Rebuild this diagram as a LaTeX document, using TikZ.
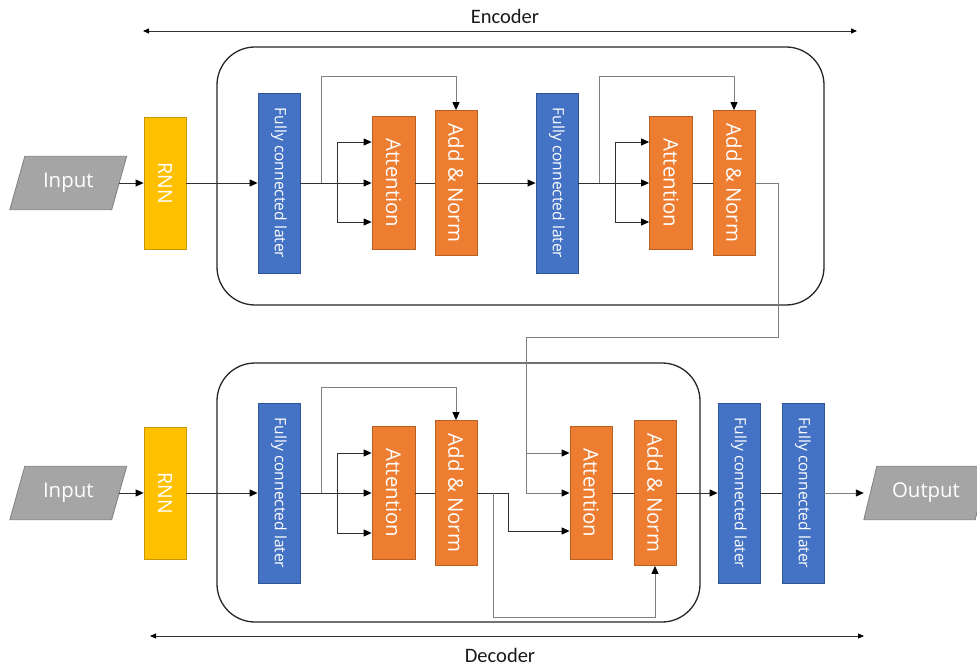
\documentclass[tikz,border=0pt]{standalone}
\usepackage{fontspec}
\setmainfont{Open Sans}
\newfontfamily\capfont{Carlito}
\usetikzlibrary{arrows.meta}

\definecolor{fcblue}{HTML}{4472C4}
\definecolor{fcedge}{HTML}{2F5597}
\definecolor{attorange}{HTML}{ED7D31}
\definecolor{attedge}{HTML}{B85F24}
\definecolor{rnnyellow}{HTML}{FFC000}
\definecolor{rnnedge}{HTML}{C99700}
\definecolor{iogray}{HTML}{A5A5A5}
\definecolor{ioedge}{HTML}{808080}
\definecolor{wirecol}{HTML}{303030}
\definecolor{skipcol}{HTML}{7F7F7F}

\begin{document}
\begin{tikzpicture}[x=1pt,y=-1pt,
  blk/.style={draw, line width=0.8pt, inner sep=0pt, text=white},
  fcbox/.style={blk, fill=fcblue, draw=fcedge, minimum width=42pt, minimum height=180pt,
    font=\fontsize{15.6}{18}\selectfont},
  attbox/.style={blk, fill=attorange, draw=attedge, minimum width=43pt, minimum height=133pt,
    font=\fontsize{20.4}{24}\selectfont},
  addbox/.style={blk, fill=attorange, draw=attedge, minimum width=42pt, minimum height=145pt,
    font=\fontsize{20.4}{24}\selectfont},
  rnnbox/.style={blk, fill=rnnyellow, draw=rnnedge, minimum width=42pt, minimum height=132pt,
    font=\fontsize{19.5}{24}\selectfont},
  iobox/.style={inner sep=0pt, text=white, minimum height=53pt,
    font=\fontsize{20.4}{24}\selectfont},
  iofill/.style={fill=iogray, draw=ioedge, line width=0.8pt},
  frame/.style={draw=black!85, line width=1.3pt, rounded corners=38pt, inner sep=0pt},
  tip/.style={-{Triangle[length=8pt,width=7pt,color=black]}},
  wire/.style={draw=wirecol, line width=0.9pt},
  skip/.style={draw=skipcol, line width=0.9pt},
  span/.style={draw=black!80, line width=0.9pt,
    {Triangle[length=6pt,width=5pt,color=black]}-{Triangle[length=6pt,width=5pt,color=black]}},
  caption/.style={font=\capfont\fontsize{20.5}{24}\selectfont, text=black!90}
]
\useasboundingbox (0,0) rectangle (977,668);
\clip (0,0) rectangle (977,668);

% ---------- group frames ----------
\node[frame, minimum width=607pt, minimum height=258pt] (encframe) at (520.5,176) {};
\node[frame, minimum width=483pt, minimum height=259pt] (decframe) at (458.5,492.5) {};

% ---------- encoder / decoder spans ----------
\coordinate (ea) at (143,31);
\coordinate (eb) at (857,31);
\draw[span] (ea) -- (eb);
\node[caption] (enclabel) at (505,16) {Encoder};

\coordinate (da) at (150,636);
\coordinate (db) at (864,636);
\draw[span] (da) -- (db);
\node[caption] (declabel) at (500,655) {Decoder};

% ---------- encoder blocks ----------
\node[iobox, minimum width=101.5pt] (in1) at (68.25,183) {};
\path[iofill] ([xshift=-7.5pt]in1.south west) -- ([xshift=7.5pt]in1.north west)
  -- ([xshift=7.5pt]in1.north east) -- ([xshift=-7.5pt]in1.south east) -- cycle;
\node[iobox] at (in1) {Input};

\node[rnnbox] (rnn1) at (165,183) {\rotatebox{-90}{RNN}};
\node[fcbox]  (fc1)  at (279,183) {\rotatebox{-90}{Fully connected later}};
\node[attbox] (att1) at (393.5,183) {\rotatebox{-90}{Attention}};
\node[addbox] (add1) at (456,183) {\rotatebox{-90}{Add \& Norm}};
\node[fcbox]  (fc2)  at (557,183) {\rotatebox{-90}{Fully connected later}};
\node[attbox] (att2) at (671,183) {\rotatebox{-90}{Attention}};
\node[addbox] (add2) at (734,183) {\rotatebox{-90}{Add \& Norm}};

% ---------- decoder blocks ----------
\node[iobox, minimum width=101.5pt] (in2) at (68.25,493) {};
\path[iofill] ([xshift=-7.5pt]in2.south west) -- ([xshift=7.5pt]in2.north west)
  -- ([xshift=7.5pt]in2.north east) -- ([xshift=-7.5pt]in2.south east) -- cycle;
\node[iobox] at (in2) {Input};

\node[rnnbox] (rnn2) at (165,493) {\rotatebox{-90}{RNN}};
\node[fcbox]  (fc3)  at (279,493) {\rotatebox{-90}{Fully connected later}};
\node[attbox] (att3) at (393.5,493) {\rotatebox{-90}{Attention}};
\node[addbox] (add3) at (456,493) {\rotatebox{-90}{Add \& Norm}};
\node[attbox, minimum width=42pt] (att4) at (591,493) {\rotatebox{-90}{Attention}};
\node[addbox] (add4) at (655,493) {\rotatebox{-90}{Add \& Norm}};
\node[fcbox]  (fc4)  at (739,493) {\rotatebox{-90}{Fully connected later}};
\node[fcbox]  (fc5)  at (803,493) {\rotatebox{-90}{Fully connected later}};

\node[iobox, minimum width=111pt] (out) at (926,493) {};
\path[iofill] ([xshift=-6.5pt]out.south west) -- ([xshift=6.5pt]out.north west)
  -- ([xshift=6.5pt]out.north east) -- ([xshift=-6.5pt]out.south east) -- cycle;
\node[iobox] at (out) {Output};

% ---------- branch points ----------
\coordinate (s1) at (321,183);  \coordinate (k1) at (337,183);
\coordinate (s2) at (599,183);  \coordinate (k2) at (615,183);
\coordinate (s3) at (321,493);  \coordinate (k3) at (337,493);
\coordinate (top1) at (0,76);   \coordinate (top2) at (0,387);
\coordinate (e1) at (778,337);  \coordinate (e2) at (526,337);
\coordinate (j1) at (526,453);
\coordinate (m1) at (508,531);
\coordinate (b1) at (493,493);  \coordinate (b2) at (493,617);

% ---------- encoder connectors ----------
\draw[wire, tip] (in1.east) -- (rnn1.west);
\draw[wire, tip] (rnn1.east) -- (fc1.west);
\draw[wire, tip] (fc1.east) -- (att1.west);
\draw[wire, tip] (k1) |- ([yshift=41pt]att1.west);
\draw[wire, tip] (k1) |- ([yshift=-39pt]att1.west);
\draw[skip, tip] (s1) -- (s1 |- top1) -| (add1.north);
\draw[wire] (att1.east) -- (add1.west);
\draw[wire, tip] (add1.east) -- (fc2.west);

\draw[wire, tip] (fc2.east) -- (att2.west);
\draw[wire, tip] (k2) |- ([yshift=41pt]att2.west);
\draw[wire, tip] (k2) |- ([yshift=-39pt]att2.west);
\draw[skip, tip] (s2) -- (s2 |- top1) -| (add2.north);
\draw[wire] (att2.east) -- (add2.west);

% encoder output into the decoder attention
\draw[skip, tip] (add2.east) -| (e1) -- (e2) |- (att4.west);
\draw[skip, tip] (j1) -- (att4.west |- j1);

% ---------- decoder connectors ----------
\draw[wire, tip] (in2.east) -- (rnn2.west);
\draw[wire, tip] (rnn2.east) -- (fc3.west);
\draw[wire, tip] (fc3.east) -- (att3.west);
\draw[wire, tip] (k3) |- ([yshift=40pt]att3.west);
\draw[wire, tip] (k3) |- ([yshift=-40pt]att3.west);
\draw[skip, tip] (s3) -- (s3 |- top2) -| (add3.north);
\draw[wire] (att3.east) -- (add3.west);
\draw[wire, tip] (add3.east) -| (m1) -- (att4.west |- m1);
\draw[skip, tip] (b1) -- (b2) -| (add4.south);
\draw[wire] (att4.east) -- (add4.west);
\draw[wire, tip] (add4.east) -- (fc4.west);
\draw[wire] (fc4.east) -- (fc5.west);
\draw[skip, tip] (fc5.east) -- ([xshift=-6.5pt]out.west);
\end{tikzpicture}
\end{document}
